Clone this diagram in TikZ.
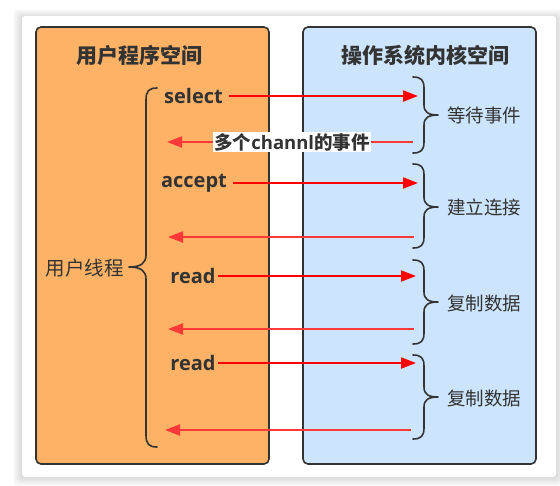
\documentclass[tikz,border=0pt]{standalone}
\usepackage{fontspec}
\setmainfont{Open Sans}
\newfontfamily\cjk{Noto Sans CJK SC}
\usetikzlibrary{arrows.meta}
\definecolor{txt}{HTML}{333333}
\definecolor{orangefill}{HTML}{FDB266}
\definecolor{bluefill}{HTML}{CCE5FD}
\definecolor{arrR}{HTML}{FF0000}
\definecolor{arrL}{HTML}{FF3838}
\tikzset{
  panel/.style={draw=txt, line width=1.6pt, rounded corners=5pt},
  titletext/.style={text=txt, font=\cjk\bfseries\fontsize{21}{24}\selectfont, inner sep=0pt},
  calltext/.style={text=txt, font=\bfseries\fontsize{20}{24}\selectfont, inner sep=0pt},
  sidetext/.style={text=txt, font=\cjk\fontsize{18.5}{22}\selectfont, inner sep=0pt},
  bracepath/.style={draw=txt, line width=1.6pt, line cap=round, line join=round},
  rarrow/.style={draw=arrR, line width=2pt, -{Triangle[length=15pt,width=11pt]}},
  larrow/.style={draw=arrL, line width=2pt, -{Triangle[length=15pt,width=11pt]}},
}
\begin{document}
\begin{tikzpicture}[x=1pt,y=-1pt]
\useasboundingbox (0,0) rectangle (560,485);
\fill[white] (0,0) rectangle (560,485);
% card shadow
\foreach \i in {1,...,9}{
  \fill[black, opacity=0.014, rounded corners=4pt] (22-\i,16-\i+2) rectangle (556+\i,477+\i);
}
\fill[white, rounded corners=3pt] (22,16) rectangle (556,477);
% panels
\path[panel, fill=orangefill] (36,27) rectangle (269,464);
\path[panel, fill=bluefill] (303,27) rectangle (536,464);
% titles
\node[titletext] (t1) at (139,55) {用户程序空间};
\node[titletext] (t2) at (425,55) {操作系统内核空间};
% left side labels
\node[sidetext, font=\cjk\fontsize{19.5}{22}\selectfont, anchor=east] (ut) at (124,268) {用户线程};
\node[calltext] (sel) at (193.5,96) {select};
\node[calltext] (acc) at (194,183) {accept};
\node[calltext] (rd1) at (193,276) {read};
\node[calltext] (rd2) at (193,363) {read};
% left brace
\path[bracepath] (157,88) .. controls (149,88) and (146,91) .. (146,100) -- (146,255)
  .. controls (146,263) and (141,267) .. (129,267)
  .. controls (141,267) and (146,271) .. (146,279) -- (146,435)
  .. controls (146,444) and (149,447) .. (157,447);
% right braces
\foreach \yt/\ym/\yb in {77/115/153, 164/207/248, 260/302/344, 355/397/439}{
  \path[bracepath] (413,\yt) .. controls (421,\yt) and (424,\yt+3) .. (424,\yt+11) -- (424,\ym-10)
    .. controls (424,\ym-3) and (428,\ym) .. (438,\ym)
    .. controls (428,\ym) and (424,\ym+3) .. (424,\ym+10) -- (424,\yb-11)
    .. controls (424,\yb-3) and (421,\yb) .. (413,\yb);
}
\node[sidetext, anchor=west] (w1) at (447,115) {等待事件};
\node[sidetext, anchor=west] (w2) at (447,207) {建立连接};
\node[sidetext, anchor=west] (w3) at (447,303) {复制数据};
\node[sidetext, anchor=west] (w4) at (447,398) {复制数据};
% arrow end points
\coordinate (selE) at (418,96);
\coordinate (accE) at (418,183);
\coordinate (rd1E) at (416,276);
\coordinate (rd2E) at (416,363);
\coordinate (b1S) at (413,142); \coordinate (b1E) at (167,142);
\coordinate (b2S) at (414,237); \coordinate (b2E) at (168,237);
\coordinate (b3S) at (414,329); \coordinate (b3E) at (168,329);
\coordinate (b4S) at (411,430); \coordinate (b4E) at (165,430);
% right arrows
\draw[rarrow, shorten <=6pt] (sel.east) -- (selE);
\draw[rarrow, shorten <=6pt] (acc.east) -- (accE);
\draw[rarrow, shorten <=2pt] (rd1.east) -- (rd1E);
\draw[rarrow, shorten <=2pt] (rd2.east) -- (rd2E);
% left arrows
\draw[larrow] (b1S) -- (b1E);
\node[fill=white, text=txt, font=\bfseries\fontsize{18.5}{22}\selectfont, inner sep=1.5pt] (ml) at (292,142) {{\cjk 多个}channl{\cjk 的事件}};
\draw[larrow] (b2S) -- (b2E);
\draw[larrow] (b3S) -- (b3E);
\draw[larrow] (b4S) -- (b4E);
\end{tikzpicture}
\end{document}
